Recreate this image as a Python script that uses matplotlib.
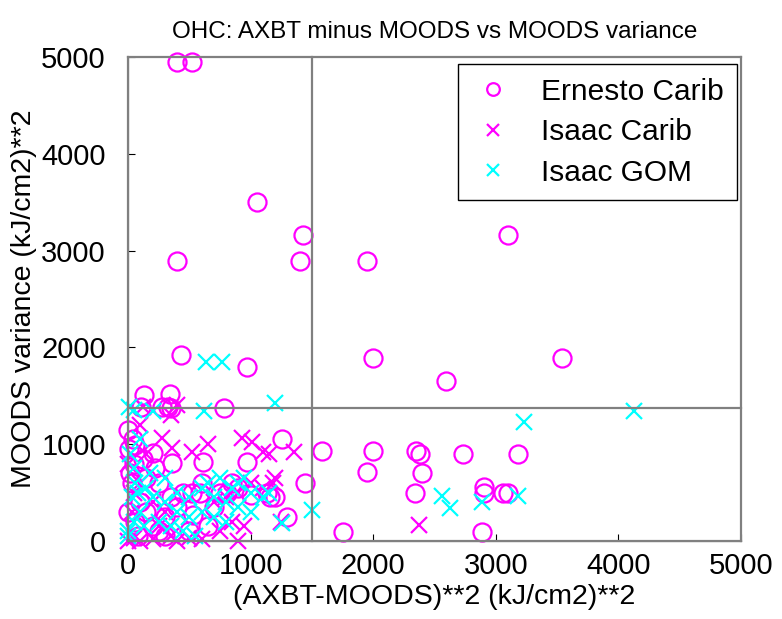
import matplotlib
matplotlib.use("Agg")
import matplotlib.pyplot as plt

plt.rcParams['font.family']=['Liberation Sans','DejaVu Sans']

# Ernesto Carib (circles)
ernesto_x=[400,520,1050,1430,3100,400,1400,1950,430,2000,3540,2590,970,780,
 130,340,110,280,330,350,
 0,60,200,360,610,970,1260,1580,2000,1950,2350,2380,2400,2730,3180,2340,2900,2900,3060,3100,1750,2890,1440,
 450,520,590,750,810,1130,1160,530,1300,
 20,50,30,100,150,200,250,0,80,300,350,250,150,400,650,700,850,900,1000,1200,60,10,120,220,40,500,600,300]
ernesto_y=[4950,4950,3500,3160,3160,2890,2890,2890,1920,1890,1890,1650,1800,1370,
 1510,1520,1380,1380,1380,1370,
 1150,990,910,810,820,820,1050,930,930,710,930,900,700,900,900,500,560,500,500,500,90,90,600,
 500,500,500,500,500,500,450,270,250,
 700,800,600,400,300,150,100,300,50,50,450,600,650,350,150,350,600,550,480,450,200,950,850,750,1050,100,600,250]

# Isaac Carib (magenta x)
isaac_carib_x=[280,360,520,930,1010,1100,1350,1200,2370,100,120,350,400,
 0,50,100,200,400,500,600,900,850,950,700,800,900,1000,1100,200,300,100,150,50,250,750,1150,1250,650,0,30,1180,350]
isaac_carib_y=[1060,960,920,1060,1020,920,920,650,170,1200,1380,1300,1400,
 0,30,0,20,0,30,20,0,200,150,400,450,500,600,550,400,300,600,900,500,150,100,900,200,1000,800,300,600,50]

# Isaac GOM (cyan x)
isaac_gom_x=[640,770,1200,620,10,50,200,1500,2560,2630,2890,3180,3230,4130,1260,
 0,50,100,30,80,150,200,300,400,500,600,700,800,900,1000,1100,650,750,850,950,1150,250,350,450,550,
 100,50,20,180,130,0,60,300,400,700,800,900,1000,600,500]
isaac_gom_y=[1850,1850,1430,1340,1380,1350,1340,320,460,340,400,460,1230,1340,190,
 100,200,300,450,500,550,450,400,500,450,300,250,400,600,500,450,600,650,550,650,500,200,150,100,50,
 1050,750,900,700,150,50,600,650,300,450,200,350,300,550,250]

split_x=1500
split_y=1375

fig=plt.figure(figsize=(7.82,6.19),dpi=100)
ax=fig.add_axes([0.1637,0.126,0.7839,0.782])
ax.plot(ernesto_x,ernesto_y,'o',mfc='none',mec='#ff00ff',ms=13,mew=1.6,ls='none',clip_on=False,label='Ernesto Carib')
ax.plot(isaac_carib_x,isaac_carib_y,'x',color='#ff00ff',ms=12,mew=1.6,ls='none',clip_on=False,label='Isaac Carib')
ax.plot(isaac_gom_x,isaac_gom_y,'x',color='#00ffff',ms=12,mew=1.6,ls='none',clip_on=False,label='Isaac GOM')

gray='#808080'
for v in (0,split_x,5000):ax.plot([v,v],[0,5000],color=gray,lw=1.6,zorder=3,clip_on=False)
for v in (0,split_y,5000):ax.plot([0,5000],[v,v],color=gray,lw=1.6,zorder=3,clip_on=False)

ax.set_xlim(0,5000);ax.set_ylim(0,5000)
ax.set_xticks([0,1000,2000,3000,4000,5000]);ax.set_yticks([0,1000,2000,3000,4000,5000])
ax.tick_params(direction='in',length=5,labelsize=21,top=False,right=False)
ax.tick_params(axis='y',pad=16);ax.tick_params(axis='x',pad=8)
for s in ('top','right'):ax.spines[s].set_visible(False)
ax.set_xlabel('(AXBT-MOODS)**2 (kJ/cm2)**2',fontsize=20.5,labelpad=3)
ax.set_ylabel('MOODS variance (kJ/cm2)**2',fontsize=20.5,labelpad=3)
ax.set_title('OHC: AXBT minus MOODS vs MOODS variance',fontsize=17.5,pad=14)
leg=ax.legend(loc='upper right',fontsize=21.5,fancybox=False,edgecolor='black',framealpha=1,markerscale=0.7,
 handlelength=1.4,handletextpad=0.9,borderpad=0.45,labelspacing=0.42,borderaxespad=0,bbox_to_anchor=(0.993,0.985))
leg.get_frame().set_linewidth(1.0)
fig.savefig('out.png',dpi=100)
